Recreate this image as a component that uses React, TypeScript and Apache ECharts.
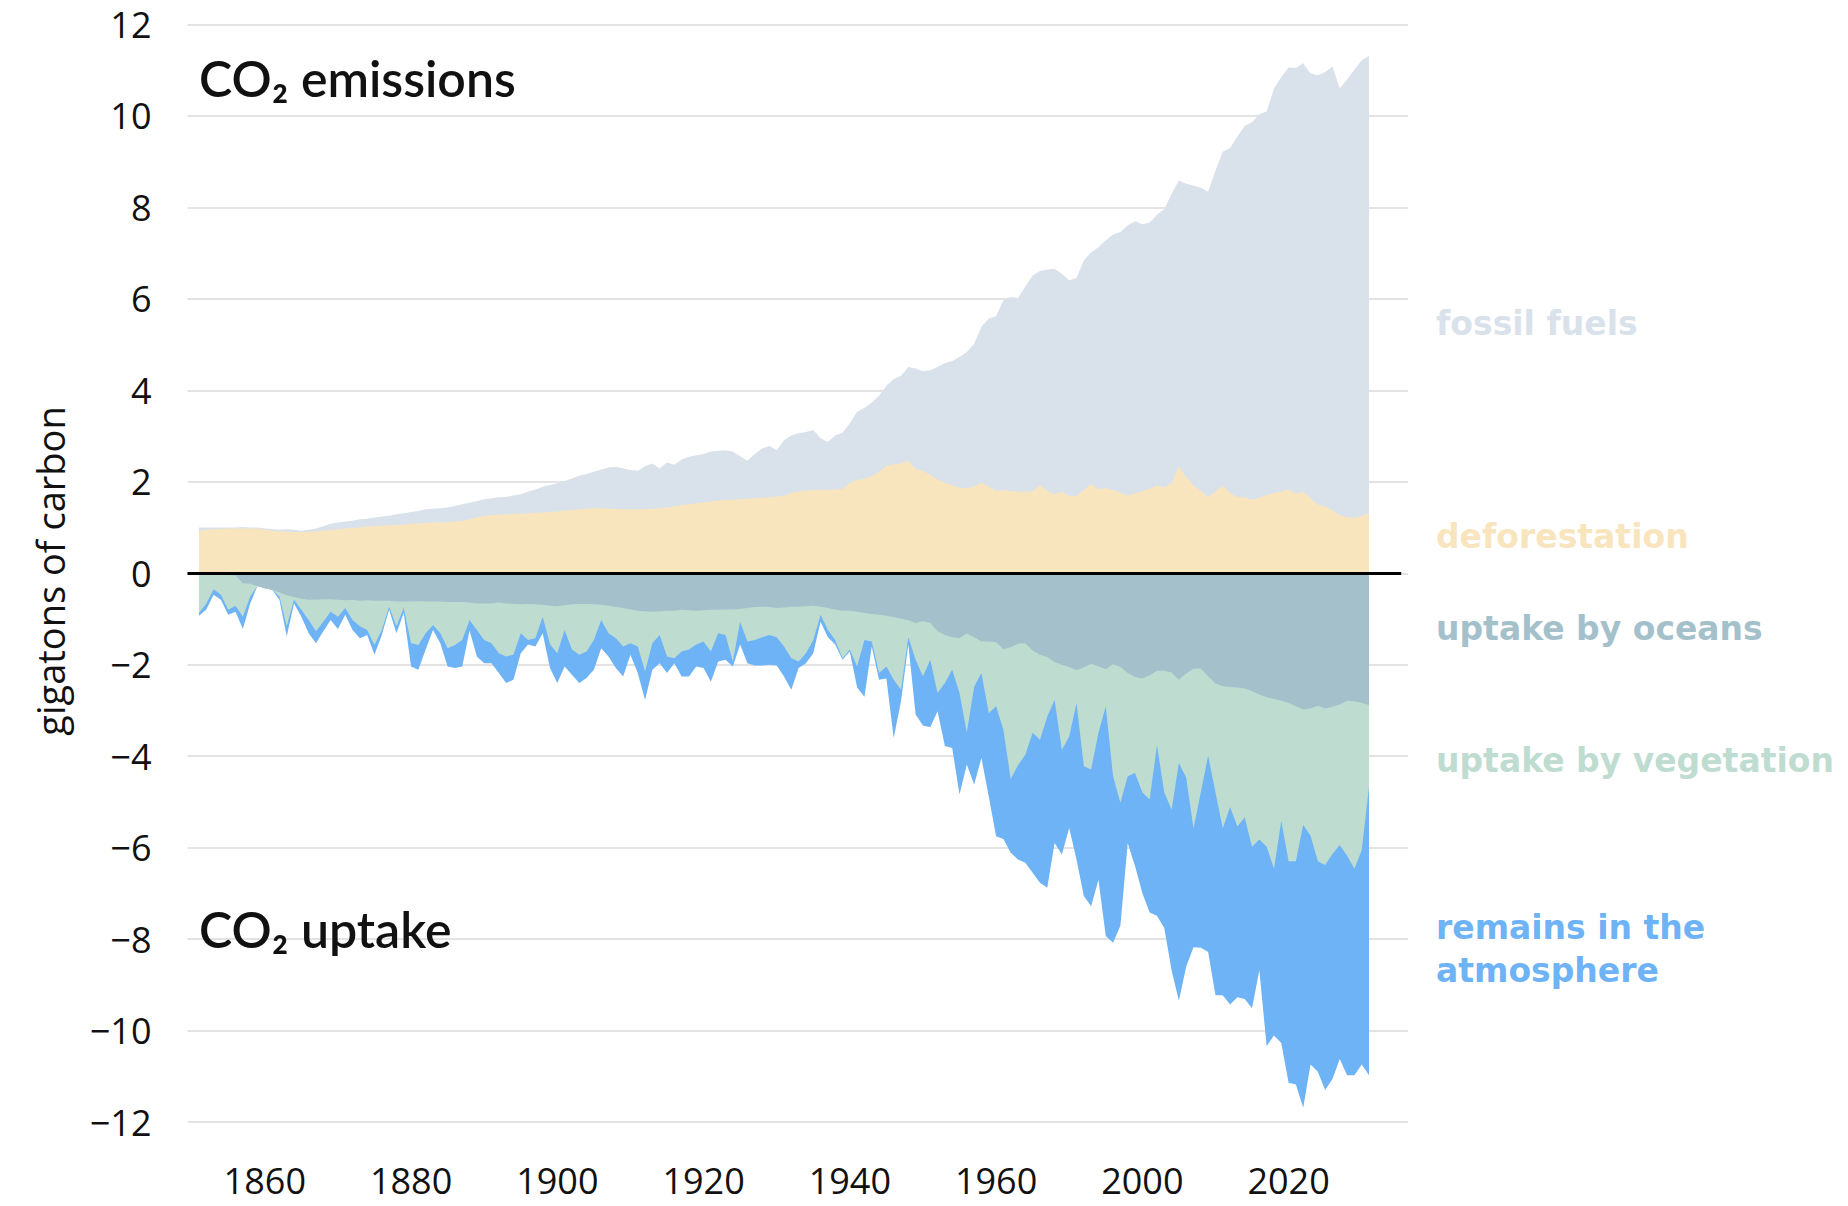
import React, { useEffect, useRef } from "react";
import * as echarts from "echarts";

// x positions (one per year on the chart's own scale)
const years = Array.from({ length: 161 }, (_, k) => 1851 + k);

// tick positions on the x scale and the labels printed under them
const xTickPositions = [1860, 1880, 1900, 1920, 1940, 1960, 1980, 2000];
const xTickLabels = ["1860", "1880", "1900", "1920", "1940", "1960", "2000", "2020"];

// top of the emissions stack (deforestation + fossil fuels), GtC
const emissionsTotal = [
  1.00, 1.00, 1.00, 1.00, 1.00, 1.00, 1.01, 1.00, 1.00, 0.98,
  0.96, 0.95, 0.96, 0.95, 0.93, 0.95, 0.98, 1.03, 1.08, 1.11,
  1.13, 1.15, 1.18, 1.19, 1.22, 1.24, 1.26, 1.29, 1.31, 1.34,
  1.36, 1.40, 1.41, 1.42, 1.44, 1.47, 1.51, 1.54, 1.58, 1.62,
  1.64, 1.66, 1.67, 1.70, 1.73, 1.78, 1.83, 1.89, 1.93, 1.97,
  2.02, 2.07, 2.13, 2.17, 2.22, 2.27, 2.31, 2.33, 2.29, 2.26,
  2.24, 2.34, 2.40, 2.29, 2.42, 2.37, 2.49, 2.55, 2.58, 2.61,
  2.66, 2.68, 2.69, 2.66, 2.56, 2.46, 2.61, 2.73, 2.78, 2.69,
  2.91, 3.01, 3.06, 3.09, 3.13, 2.95, 2.87, 3.01, 3.07, 3.28,
  3.53, 3.62, 3.73, 3.88, 4.10, 4.25, 4.32, 4.51, 4.48, 4.42,
  4.44, 4.51, 4.60, 4.64, 4.73, 4.84, 5.02, 5.39, 5.57, 5.62,
  5.97, 6.04, 6.02, 6.27, 6.51, 6.61, 6.64, 6.66, 6.55, 6.40,
  6.46, 6.84, 7.02, 7.13, 7.28, 7.41, 7.46, 7.61, 7.70, 7.63,
  7.67, 7.84, 7.96, 8.30, 8.59, 8.52, 8.48, 8.43, 8.34, 8.80,
  9.22, 9.30, 9.55, 9.78, 9.86, 10.04, 10.10, 10.60, 10.85, 11.06,
  11.05, 11.15, 10.93, 10.89, 10.96, 11.08, 10.60, 10.80, 11.01, 11.22, 11.31,
];

// deforestation emissions, GtC
const deforestation = [
  0.92, 0.95, 0.96, 0.97, 0.98, 0.98, 0.98, 0.98, 0.98, 0.95,
  0.93, 0.92, 0.91, 0.90, 0.90, 0.90, 0.92, 0.93, 0.95, 0.96,
  0.98, 0.99, 1.00, 1.02, 1.03, 1.04, 1.05, 1.06, 1.06, 1.08,
  1.09, 1.10, 1.11, 1.11, 1.12, 1.13, 1.14, 1.18, 1.22, 1.25,
  1.27, 1.28, 1.29, 1.30, 1.30, 1.31, 1.32, 1.33, 1.34, 1.35,
  1.37, 1.38, 1.40, 1.41, 1.42, 1.42, 1.41, 1.41, 1.40, 1.40,
  1.40, 1.40, 1.41, 1.42, 1.44, 1.46, 1.49, 1.51, 1.53, 1.55,
  1.57, 1.59, 1.60, 1.61, 1.62, 1.63, 1.64, 1.65, 1.66, 1.68,
  1.69, 1.76, 1.79, 1.81, 1.82, 1.82, 1.82, 1.83, 1.84, 1.97,
  2.04, 2.06, 2.12, 2.22, 2.35, 2.38, 2.40, 2.46, 2.28, 2.24,
  2.15, 2.05, 1.98, 1.93, 1.87, 1.86, 1.89, 1.98, 1.89, 1.80,
  1.82, 1.80, 1.78, 1.78, 1.79, 1.93, 1.80, 1.73, 1.78, 1.69,
  1.69, 1.82, 1.95, 1.83, 1.86, 1.82, 1.76, 1.70, 1.75, 1.80,
  1.84, 1.92, 1.88, 1.97, 2.34, 2.10, 1.92, 1.80, 1.67, 1.79,
  1.92, 1.75, 1.67, 1.66, 1.61, 1.65, 1.71, 1.75, 1.79, 1.83,
  1.74, 1.79, 1.64, 1.50, 1.46, 1.38, 1.27, 1.23, 1.21, 1.25, 1.31,
];

// lower edge of the ocean uptake band, GtC
const oceanUptake = [
  -0.02, -0.02, -0.02, -0.03, -0.04, -0.05, -0.22, -0.23, -0.28, -0.33,
  -0.36, -0.42, -0.48, -0.52, -0.56, -0.58, -0.58, -0.57, -0.57, -0.58,
  -0.59, -0.58, -0.60, -0.59, -0.60, -0.60, -0.60, -0.62, -0.62, -0.62,
  -0.61, -0.62, -0.62, -0.62, -0.63, -0.63, -0.63, -0.64, -0.66, -0.66,
  -0.66, -0.64, -0.66, -0.67, -0.68, -0.67, -0.68, -0.69, -0.71, -0.72,
  -0.70, -0.68, -0.67, -0.67, -0.68, -0.69, -0.71, -0.74, -0.76, -0.79,
  -0.82, -0.83, -0.84, -0.83, -0.82, -0.82, -0.80, -0.81, -0.82, -0.81,
  -0.80, -0.80, -0.79, -0.79, -0.78, -0.76, -0.74, -0.73, -0.74, -0.76,
  -0.75, -0.73, -0.73, -0.72, -0.71, -0.73, -0.76, -0.80, -0.82, -0.82,
  -0.84, -0.87, -0.89, -0.91, -0.93, -0.96, -0.99, -1.03, -1.09, -1.05,
  -1.09, -1.27, -1.35, -1.40, -1.42, -1.32, -1.40, -1.49, -1.49, -1.51,
  -1.66, -1.62, -1.54, -1.53, -1.69, -1.78, -1.83, -1.94, -2.00, -2.05,
  -2.12, -2.06, -1.98, -2.04, -2.10, -1.99, -2.05, -2.18, -2.27, -2.30,
  -2.23, -2.13, -2.13, -2.17, -2.33, -2.19, -2.09, -2.09, -2.25, -2.41,
  -2.47, -2.49, -2.50, -2.52, -2.58, -2.65, -2.71, -2.75, -2.79, -2.84,
  -2.91, -2.98, -2.96, -2.90, -2.96, -2.92, -2.87, -2.79, -2.80, -2.84, -2.88,
];

// lower edge of the vegetation band (oceans + vegetation), GtC
const oceanVegetationUptake = [
  -0.87, -0.66, -0.35, -0.47, -0.80, -0.71, -0.95, -0.51, -0.28, -0.33,
  -0.36, -0.51, -1.16, -0.58, -0.80, -1.02, -1.27, -1.06, -0.84, -0.95,
  -0.76, -1.02, -1.16, -1.24, -1.57, -1.24, -0.73, -1.16, -0.76, -1.53,
  -1.57, -1.31, -1.13, -1.31, -1.64, -1.57, -1.46, -1.02, -1.24, -1.46,
  -1.53, -1.75, -1.82, -1.78, -1.31, -1.46, -1.42, -0.95, -1.55, -1.75,
  -1.24, -1.67, -1.78, -1.71, -1.46, -1.02, -1.31, -1.42, -1.60, -1.53,
  -1.60, -2.15, -1.53, -1.35, -1.82, -1.86, -1.71, -1.67, -1.56, -1.49,
  -1.71, -1.31, -1.35, -1.93, -1.06, -1.49, -1.46, -1.40, -1.35, -1.40,
  -1.60, -1.86, -1.93, -1.75, -1.46, -0.91, -1.24, -1.46, -1.86, -1.67,
  -2.04, -1.46, -1.49, -2.18, -2.04, -2.33, -2.55, -1.40, -1.89, -2.26,
  -1.89, -2.62, -2.40, -2.11, -2.62, -3.49, -2.48, -2.18, -3.06, -2.91,
  -3.42, -4.50, -4.20, -3.97, -3.49, -3.64, -3.13, -2.77, -3.86, -3.57,
  -2.84, -4.22, -4.29, -3.49, -2.91, -4.44, -5.02, -4.44, -4.37, -4.79,
  -4.95, -3.76, -4.79, -5.17, -4.15, -4.47, -5.58, -4.79, -3.99, -4.79,
  -5.58, -5.11, -5.54, -5.34, -5.98, -5.82, -5.98, -6.46, -5.42, -6.30,
  -6.30, -5.50, -5.74, -6.30, -6.38, -6.14, -5.94, -6.18, -6.46, -6.06, -4.67,
];

// lower edge of the whole uptake stack (incl. what remains in the atmosphere), GtC
const totalUptake = [
  -0.93, -0.79, -0.47, -0.58, -0.91, -0.84, -1.22, -0.66, -0.28, -0.33,
  -0.36, -0.58, -1.38, -0.66, -0.95, -1.31, -1.53, -1.27, -1.02, -1.22,
  -0.91, -1.24, -1.42, -1.35, -1.78, -1.35, -0.80, -1.31, -0.87, -2.04,
  -2.11, -1.67, -1.24, -1.53, -2.04, -2.07, -2.04, -1.25, -1.82, -1.97,
  -1.97, -2.18, -2.40, -2.33, -1.75, -1.56, -1.60, -1.31, -2.07, -2.40,
  -2.04, -2.22, -2.40, -2.29, -2.11, -1.64, -1.82, -2.07, -2.26, -1.78,
  -2.18, -2.77, -2.11, -1.97, -2.18, -1.97, -2.26, -2.26, -2.04, -2.07,
  -2.37, -1.93, -1.89, -2.04, -1.56, -1.97, -2.02, -2.02, -2.00, -2.02,
  -2.26, -2.55, -2.07, -1.97, -1.75, -1.06, -1.40, -1.56, -1.89, -1.71,
  -2.50, -2.70, -1.60, -2.33, -2.30, -3.60, -2.80, -1.55, -3.09, -3.33,
  -3.37, -3.02, -3.78, -3.82, -4.84, -4.18, -4.62, -4.04, -4.88, -5.75,
  -5.81, -6.11, -6.26, -6.33, -6.55, -6.77, -6.88, -5.90, -6.15, -5.57,
  -6.26, -7.06, -7.28, -6.70, -7.93, -8.08, -7.71, -5.90, -6.40, -6.99,
  -7.42, -7.49, -7.76, -8.68, -9.35, -8.60, -8.18, -8.19, -8.28, -9.23,
  -9.23, -9.43, -9.27, -9.31, -9.51, -8.68, -10.34, -10.11, -10.27, -11.14,
  -11.18, -11.69, -10.74, -10.90, -11.30, -11.06, -10.62, -10.98, -10.98, -10.74, -10.98,
];

// where the black zero line starts and stops on the x scale
const zeroLineExtent = [1849.43, 2015.4];

const COLORS = {
  fossil: "#d9e2eb",
  deforestation: "#f9e5bd",
  oceans: "#a4c1cb",
  vegetation: "#bfdcd1",
  atmosphere: "#6db3f5",
};

const TICK_FONT = "'Open Sans', 'DejaVu Sans', sans-serif";
const LABEL_FONT = "'DejaVu Sans', Verdana, sans-serif";
const TITLE_FONT = "Lato, 'Open Sans', sans-serif";

function areaSeries(name: string, values: number[], color: string, extra: any = {}) {
  return {
    name,
    type: "line",
    data: years.map((y, k) => [y, values[k]]),
    symbol: "none",
    showSymbol: false,
    silent: true,
    lineStyle: { width: 0, opacity: 0 },
    areaStyle: { color, opacity: 1 },
    itemStyle: { color },
    emphasis: { disabled: true },
    ...extra,
  };
}

function sideLabel(text: string, y: number, color: string, lineHeight = 43) {
  return {
    type: "text",
    x: 1436,
    y,
    z: 100,
    silent: true,
    style: {
      text,
      fill: color,
      fontFamily: LABEL_FONT,
      fontWeight: "bold",
      fontSize: 33,
      lineHeight,
      textAlign: "left",
      textVerticalAlign: "middle",
    },
  };
}

function titleText(text: string, y: number) {
  return {
    type: "text",
    x: 199,
    y,
    z: 100,
    silent: true,
    style: {
      text,
      fill: "#111111",
      fontFamily: TITLE_FONT,
      fontWeight: 600,
      fontSize: 50,
      textAlign: "left",
      textVerticalAlign: "middle",
    },
  };
}

export default function App() {
  const ref = useRef<HTMLDivElement>(null);

  useEffect(() => {
    if (!ref.current) return;
    const chart = echarts.init(ref.current, null, { renderer: "svg" });
    const option: any = {
      animation: false,
      backgroundColor: "#ffffff",
      grid: { left: 187.5, right: 440, top: 24.5, bottom: 84, containLabel: false },
      xAxis: {
        type: "value",
        min: 1849.43,
        max: 2016.33,
        axisLine: { show: false },
        axisTick: { show: false },
        splitLine: { show: false },
        axisLabel: {
          customValues: xTickPositions,
          formatter: (v: number) => {
            const k = xTickPositions.indexOf(Math.round(v));
            return k >= 0 ? xTickLabels[k] : "";
          },
          fontSize: 36,
          fontFamily: TICK_FONT,
          color: "#111111",
          margin: 40,
        },
      },
      yAxis: {
        type: "value",
        min: -12,
        max: 12,
        interval: 2,
        axisLine: { show: false },
        axisTick: { show: false },
        splitLine: { show: true, lineStyle: { color: "#e3e3e3", width: 2 } },
        axisLabel: {
          fontSize: 36,
          fontFamily: TICK_FONT,
          color: "#111111",
          margin: 36,
          formatter: (v: number) => (v < 0 ? "\u2212" + Math.abs(v) : String(v)),
        },
      },
      series: [
        areaSeries("fossil fuels", emissionsTotal, COLORS.fossil),
        areaSeries("deforestation", deforestation, COLORS.deforestation),
        areaSeries("remains in the atmosphere", totalUptake, COLORS.atmosphere),
        areaSeries("uptake by vegetation", oceanVegetationUptake, COLORS.vegetation),
        areaSeries("uptake by oceans", oceanUptake, COLORS.oceans, {
          markLine: {
            silent: true,
            symbol: ["none", "none"],
            label: { show: false },
            lineStyle: { color: "#000000", width: 3, type: "solid", opacity: 1 },
            emphasis: { disabled: true },
            data: [[{ coord: [zeroLineExtent[0], 0] }, { coord: [zeroLineExtent[1], 0] }]],
          },
        }),
      ],
      graphic: [
        titleText("CO\u2082 emissions", 78),
        titleText("CO\u2082 uptake", 929),
        {
          type: "text",
          x: 50,
          y: 571,
          rotation: Math.PI / 2,
          z: 100,
          silent: true,
          style: {
            text: "gigatons of carbon",
            fill: "#111111",
            fontFamily: TICK_FONT,
            fontSize: 38,
            textAlign: "center",
            textVerticalAlign: "middle",
          },
        },
        sideLabel("fossil fuels", 323, COLORS.fossil),
        sideLabel("deforestation", 536, COLORS.deforestation),
        sideLabel("uptake by oceans", 628, COLORS.oceans),
        sideLabel("uptake by vegetation", 760, COLORS.vegetation),
        sideLabel("remains in the\natmosphere", 948.5, COLORS.atmosphere),
      ],
    };
    chart.setOption(option);
    return () => chart.dispose();
  }, []);

  return (
    <div
      ref={ref}
      style={{ position: "absolute", left: 0, top: 0, width: 1848, height: 1206, background: "#ffffff" }}
    />
  );
}
